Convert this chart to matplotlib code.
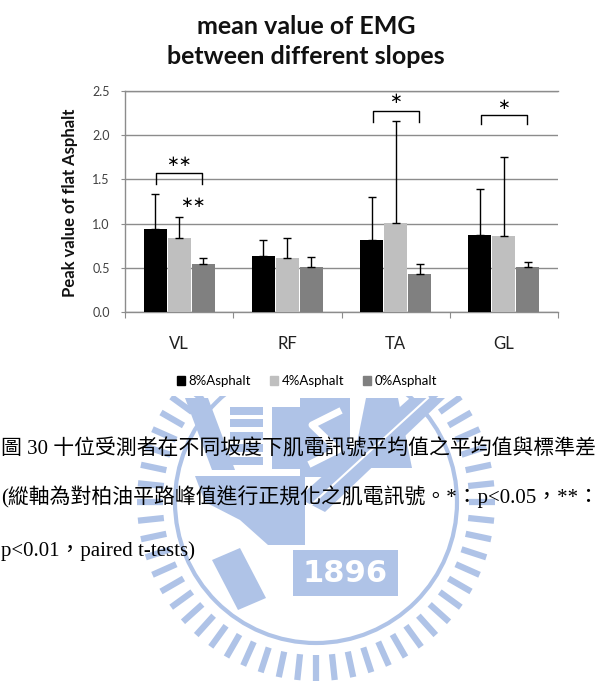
import matplotlib
matplotlib.use("Agg")
import matplotlib.pyplot as plt
import numpy as np
from matplotlib.patches import Rectangle, Circle, Polygon
from matplotlib.lines import Line2D

# ---------------- data ----------------
categories = ["VL", "RF", "TA", "GL"]
series_names = ["8%Asphalt", "4%Asphalt", "0%Asphalt"]
mean_8 = [0.94, 0.63, 0.81, 0.87]
mean_4 = [0.84, 0.61, 1.01, 0.86]
mean_0 = [0.54, 0.51, 0.43, 0.51]
sd_8 = [0.39, 0.18, 0.49, 0.52]
sd_4 = [0.24, 0.23, 1.15, 0.89]
sd_0 = [0.07, 0.115, 0.11, 0.06]
yticks = [0.0, 0.5, 1.0, 1.5, 2.0, 2.5]
# significance brackets
sig_cat = [0, 2, 3]
sig_top = [1.57, 2.27, 2.23]
sig_leg = [1.45, 2.15, 2.13]
sig_label = ["∗∗", "∗", "∗"]
sig_label_y = [1.70, 2.41, 2.35]
# extra marker between 4% and 0% of VL
extra_cat = 0
extra_label = "∗∗"
extra_y = 1.24

title = "mean value of EMG\nbetween different slopes"
ylabel = "Peak value of flat Asphalt"
caption1 = "圖 30 十位受測者在不同坡度下肌電訊號平均值之平均值與標準差"
caption2 = "(縱軸為對柏油平路峰值進行正規化之肌電訊號。*：p<0.05，**："
caption3 = "p<0.01，paired t-tests)"

colors = ["#000000", "#BFBFBF", "#808080"]
GRID = "#8C8C8C"
W, H = 600, 683
UI = "Lato"

fig = plt.figure(figsize=(W / 100, H / 100), dpi=100)

def fx(px):
    return px / W

def fy(py):
    return 1 - py / H

# ---------------- watermark (background decoration) ----------------
WM = "#AFC3E7"
wm = fig.add_axes([0, 0, 1, fy(396)], zorder=0)
wm.set_xlim(0, W)
wm.set_ylim(H, 396)
wm.axis("off")
cx, cy = 316, 502
wm.add_patch(Circle((cx, cy), 141, fill=False, ec=WM, lw=3))
for ang in np.arange(0, 360, 6.0):
    a = np.deg2rad(ang)
    wm.add_line(Line2D([cx + 153 * np.cos(a), cx + 179 * np.cos(a)],
                       [cy + 153 * np.sin(a), cy + 179 * np.sin(a)],
                       color=WM, lw=4.5, solid_capstyle="butt"))
for i in range(5):
    wm.add_patch(Rectangle((230, 407 + i * 12.5), 33, 8, color=WM, lw=0))
wm.add_patch(Rectangle((272, 407), 28, 62, color=WM, lw=0))
wm.add_patch(Rectangle((300, 398), 50, 79, color=WM, lw=0))
wm.add_line(Line2D([338, 312, 338, 312], [412, 425, 450, 463], color="white", lw=5))
wm.add_patch(Polygon([(352, 468), (412, 468), (398, 398), (366, 398)], color=WM, lw=0))
wm.add_patch(Polygon([(410, 398), (445, 398), (325, 512), (298, 498)], color=WM, lw=0))
wm.add_line(Line2D([428, 310], [398, 506], color="white", lw=1.5))
wm.add_patch(Polygon([(185, 398), (208, 398), (235, 470), (212, 470)], color=WM, lw=0))
wm.add_patch(Polygon([(195, 476), (305, 476), (305, 545), (268, 545), (240, 520), (205, 502)],
                     color=WM, lw=0))
wm.add_patch(Polygon([(212, 560), (240, 548), (266, 598), (238, 610)], color=WM, lw=0))
wm.add_patch(Rectangle((293, 550), 105, 46, color=WM, lw=0))
wm.text(345, 574, "1896", color="white", fontsize=22, fontweight="bold",
        ha="center", va="center", family="DejaVu Sans")

# ---------------- chart ----------------
ax = fig.add_axes([fx(125), fy(312), (558 - 125) / W, (312 - 91) / H], zorder=2)
x = np.arange(len(categories)) + 0.5
offsets = [-0.222, 0.0, 0.222]
width = 0.213
means = [mean_8, mean_4, mean_0]
sds = [sd_8, sd_4, sd_0]
for i in range(3):
    ax.bar(x + offsets[i], means[i], width, color=colors[i], zorder=3,
           yerr=[np.zeros(len(categories)), sds[i]],
           error_kw=dict(ecolor="black", elinewidth=1.0, capsize=3, capthick=1.0, zorder=4))

ax.set_xlim(0, len(categories))
ax.set_ylim(0, 2.5)
ax.set_yticks(yticks)
ax.set_yticklabels([f"{t:.1f}" for t in yticks])
ax.yaxis.grid(True, color=GRID, lw=1.0)
ax.set_axisbelow(True)
ax.spines["right"].set_visible(False)
for s in ["left", "bottom", "top"]:
    ax.spines[s].set_color(GRID)
    ax.spines[s].set_linewidth(1.0)
ax.tick_params(axis="y", direction="out", length=3, color=GRID, labelsize=9,
               labelcolor="#404040", pad=8)
for lab in ax.get_yticklabels():
    lab.set_family(UI)
ax.set_xticks(np.arange(len(categories) + 1))
ax.set_xticklabels([])
ax.tick_params(axis="x", which="major", direction="out", length=4, color=GRID)
ax.set_xticks(x, minor=True)
ax.set_xticklabels(categories, minor=True)
ax.tick_params(axis="x", which="minor", length=0, labelsize=12, pad=17, labelcolor="#202020")
for lab in ax.get_xticklabels(minor=True):
    lab.set_family(UI)

# significance brackets
for k in range(len(sig_cat)):
    c = x[sig_cat[k]]
    xl, xr = c + offsets[0] + 0.01, c + offsets[2] - 0.01
    ax.plot([xl, xl, xr, xr], [sig_leg[k], sig_top[k], sig_top[k], sig_leg[k]],
            color="black", lw=1.0, zorder=5)
    ax.text((xl + xr) / 2, sig_label_y[k], sig_label[k], ha="center", va="center",
            fontsize=11, family="DejaVu Sans", color="black", zorder=5)
ax.text(x[extra_cat] + 0.13, extra_y, extra_label, ha="center", va="center",
        fontsize=11, family="DejaVu Sans", color="black", zorder=5)

# title & y label
fig.text(fx(306), fy(41.5), title, ha="center", va="center", fontsize=18,
         fontweight="bold", family=UI, linespacing=1.42, color="#111111")
fig.text(fx(70), fy(203), ylabel, rotation=90, ha="center", va="center",
         fontsize=12, fontweight="bold", family=UI, color="#111111")

# legend
handles = [Rectangle((0, 0), 1, 1, color=c) for c in colors]
fig.legend(handles, series_names, loc="center", bbox_to_anchor=(fx(307), fy(381)),
           ncol=3, frameon=False, handlelength=0.6, handleheight=0.6,
           handletextpad=0.3, columnspacing=1.4, prop={"family": UI, "size": 9.5})

# caption
cap_font = ["Liberation Serif", "Noto Sans CJK TC"]
fig.text(fx(1), fy(449), caption1, ha="left", va="center", fontsize=15, family=cap_font)
fig.text(fx(1), fy(497), caption2, ha="left", va="center", fontsize=15, family=cap_font)
fig.text(fx(1), fy(551), caption3, ha="left", va="center", fontsize=15, family=cap_font)

fig.savefig("out.png", dpi=100)
